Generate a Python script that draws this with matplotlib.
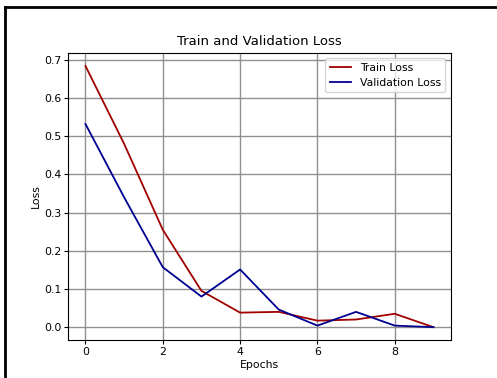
import matplotlib
matplotlib.use("Agg")
import matplotlib.pyplot as plt
from matplotlib.lines import Line2D

epochs = list(range(10))
train_loss = [0.684, 0.48, 0.255, 0.095, 0.038, 0.040, 0.017, 0.020, 0.035, 0.0]
val_loss = [0.532, 0.34, 0.157, 0.080, 0.151, 0.046, 0.004, 0.040, 0.004, 0.0]

fig = plt.figure(figsize=(4.97, 3.78), dpi=100)
ax = fig.add_axes([0.137, 0.100, 0.770, 0.760])
ax.plot(epochs, train_loss, color='#a00000', lw=1.3, label='Train Loss')
ax.plot(epochs, val_loss, color='#000090', lw=1.3, label='Validation Loss')
ax.set_title('Train and Validation Loss', fontsize=9.5)
ax.set_xlabel('Epochs', fontsize=7.8, labelpad=2)
ax.set_ylabel('Loss', fontsize=7.8, labelpad=2)
ax.tick_params(labelsize=7.8, length=3, pad=2)
ax.set_xticks([0, 2, 4, 6, 8])
ax.set_yticks([0.0, 0.1, 0.2, 0.3, 0.4, 0.5, 0.6, 0.7])
ax.grid(True, color='#909090', lw=1)
ax.legend(loc='upper right', fontsize=7.8, handlelength=2)

# screenshot frame
fig.add_artist(Line2D([0.011, 0.011], [0.0, 0.982], color='black', lw=2, transform=fig.transFigure))
fig.add_artist(Line2D([0.011, 1.0], [0.982, 0.982], color='black', lw=2, transform=fig.transFigure))

fig.savefig('out.png', dpi=100)
